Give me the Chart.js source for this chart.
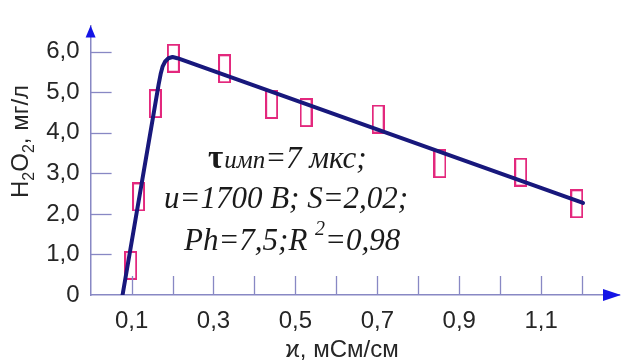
<!DOCTYPE html>
<html>
<head>
<meta charset="utf-8">
<script src="https://cdn.jsdelivr.net/npm/chart.js@4"></script>
<style>
  html, body { margin: 0; padding: 0; background: #fff; }
  #wrap { width: 627px; height: 362px; }
</style>
</head>
<body>
<div id="wrap"><canvas id="chart"></canvas></div>
<script>
// measured points (pink boxes)
let xData = [0.098, 0.117, 0.158, 0.202, 0.327, 0.442, 0.526, 0.702, 0.853, 1.050, 1.187];
let yData = [0.73, 2.42, 4.72, 5.84, 5.58, 4.70, 4.50, 4.34, 3.24, 3.03, 2.25];

// fitted curve
let fitX = [0.078, 0.166, 0.171, 0.176, 0.182, 0.19, 0.2, 0.212, 1.202];
let fitY = [0, 5.19, 5.45, 5.64, 5.76, 5.84, 5.87, 5.84, 2.27];

let xTicks = [0.1, 0.3, 0.5, 0.7, 0.9, 1.1];
let xTickLabels = ["0,1", "0,3", "0,5", "0,7", "0,9", "1,1"];
let xMarks = [0.1, 0.2, 0.3, 0.4, 0.5, 0.6, 0.7, 0.8, 0.9, 1.0, 1.1, 1.2];
let yTicks = [0, 1, 2, 3, 4, 5, 6];
let yTickLabels = ["0", "1,0", "2,0", "3,0", "4,0", "5,0", "6,0"];
let xTitle = "ϰ, мСм/см";

let axisColor = "#8888c4";
let arrowColor = "#1414e6";
let textColor = "#262626";

function boxMarker() {
  let c = document.createElement("canvas");
  c.width = 13;
  c.height = 29;
  let g = c.getContext("2d");
  g.strokeStyle = "#e3287d";
  g.lineWidth = 2;
  g.strokeRect(1, 1, 11, 27);
  return c;
}

// inward ticks, arrows, axis titles, the note
let decorPlugin = {
  id: "decor",
  afterDraw(chart) {
    let ctx = chart.ctx;
    let xs = chart.scales.x, ys = chart.scales.y;
    let x0 = xs.getPixelForValue(0), y0 = ys.getPixelForValue(0);
    ctx.save();
    ctx.strokeStyle = axisColor;
    ctx.lineWidth = 1.3;
    xMarks.forEach(v => {
      let px = Math.round(xs.getPixelForValue(v)) + 0.5;
      ctx.beginPath(); ctx.moveTo(px, y0); ctx.lineTo(px, y0 - 19); ctx.stroke();
    });
    yTicks.slice(1).forEach(v => {
      let py = Math.round(ys.getPixelForValue(v)) + 0.5;
      ctx.beginPath(); ctx.moveTo(x0, py); ctx.lineTo(x0 + 21, py); ctx.stroke();
    });
    // arrows
    let top = chart.chartArea.top, right = chart.chartArea.right;
    ctx.fillStyle = arrowColor;
    ctx.beginPath();
    ctx.moveTo(x0, top); ctx.lineTo(x0 - 5, top + 12); ctx.lineTo(x0 + 5, top + 12);
    ctx.closePath(); ctx.fill();
    ctx.beginPath();
    ctx.moveTo(right + 2, y0); ctx.lineTo(right - 16, y0 - 6); ctx.lineTo(right - 16, y0 + 6);
    ctx.closePath(); ctx.fill();

    // x title
    ctx.fillStyle = textColor;
    ctx.font = "24px 'Liberation Sans'";
    ctx.textAlign = "center";
    ctx.textBaseline = "middle";
    ctx.fillText(xTitle, 342, 350);

    // y title: H2O2, мг/л
    ctx.textAlign = "left";
    ctx.translate(28, 198);
    ctx.rotate(-Math.PI / 2);
    ctx.textBaseline = "alphabetic";
    let parts = [["H", 24, 0], ["2", 16, 6], ["O", 24, 0], ["2", 16, 6], [", мг/л", 24, 0]];
    let pos = 0;
    parts.forEach(p => {
      ctx.font = p[1] + "px 'Liberation Sans'";
      ctx.fillText(p[0], pos, p[2]);
      pos += ctx.measureText(p[0]).width;
    });
    ctx.restore();

    // note
    ctx.save();
    ctx.fillStyle = "#1a1a1a";
    ctx.textBaseline = "alphabetic";
    let serif = "'Liberation Serif'";
    let x = 208;
    ctx.font = "bold 33px " + serif;
    ctx.fillText("τ", x, 168);
    x += ctx.measureText("τ").width + 1;
    ctx.font = "italic 25px " + serif;
    ctx.fillText("имп", x, 168);
    x += ctx.measureText("имп").width;
    ctx.font = "italic 31px " + serif;
    ctx.fillText("=7 мкс;", x, 168);

    ctx.fillText("u=1700 B; S=2,02;", 164, 208);

    x = 184;
    ctx.fillText("Ph=7,5;R", x, 250);
    x += ctx.measureText("Ph=7,5;R ").width;
    ctx.font = "italic 20px " + serif;
    ctx.fillText("2", x, 235);
    x += ctx.measureText("2").width;
    ctx.font = "italic 31px " + serif;
    ctx.fillText("=0,98", x, 250);
    ctx.restore();
  }
};

window.onload = function() {
  let ctx = document.getElementById("chart").getContext("2d");
  window.myChart = new Chart(ctx, {
    type: "scatter",
    data: {
      datasets: [
        {
          type: "line",
          data: fitX.map((v, i) => ({ x: v, y: fitY[i] })),
          borderColor: "#18187c",
          borderWidth: 4,
          borderJoinStyle: "round",
          borderCapStyle: "round",
          pointRadius: 0,
          tension: 0,
          fill: false
        },
        {
          data: xData.map((v, i) => ({ x: v, y: yData[i] })),
          pointStyle: boxMarker(),
          pointRadius: 7
        }
      ]
    },
    options: {
      responsive: true,
      maintainAspectRatio: false,
      animation: false,
      layout: { padding: { top: 20, right: 3, left: 0, bottom: 0 } },
      plugins: {
        legend: { display: false },
        tooltip: { enabled: false }
      },
      scales: {
        x: {
          type: "linear",
          min: 0,
          max: 1.29,
          afterBuildTicks: s => { s.ticks = xTicks.map(v => ({ value: v })); },
          afterFit: s => { s.height = 67; },
          grid: { display: false, drawTicks: false },
          border: { display: true, color: axisColor, width: 1.5 },
          ticks: {
            callback: (v, i) => xTickLabels[i],
            color: textColor,
            padding: 12,
            maxRotation: 0,
            autoSkip: false,
            font: { family: "'Liberation Sans'", size: 24 }
          }
        },
        y: {
          min: 0,
          max: 6.65,
          afterBuildTicks: s => { s.ticks = yTicks.map(v => ({ value: v })); },
          afterFit: s => { s.width = 90.6; },
          grid: { display: false, drawTicks: false },
          border: { display: true, color: axisColor, width: 1.5 },
          ticks: {
            callback: (v, i) => yTickLabels[i],
            color: textColor,
            padding: 11,
            autoSkip: false,
            font: { family: "'Liberation Sans'", size: 24 }
          }
        }
      }
    },
    plugins: [decorPlugin]
  });
};
</script>
</body>
</html>
